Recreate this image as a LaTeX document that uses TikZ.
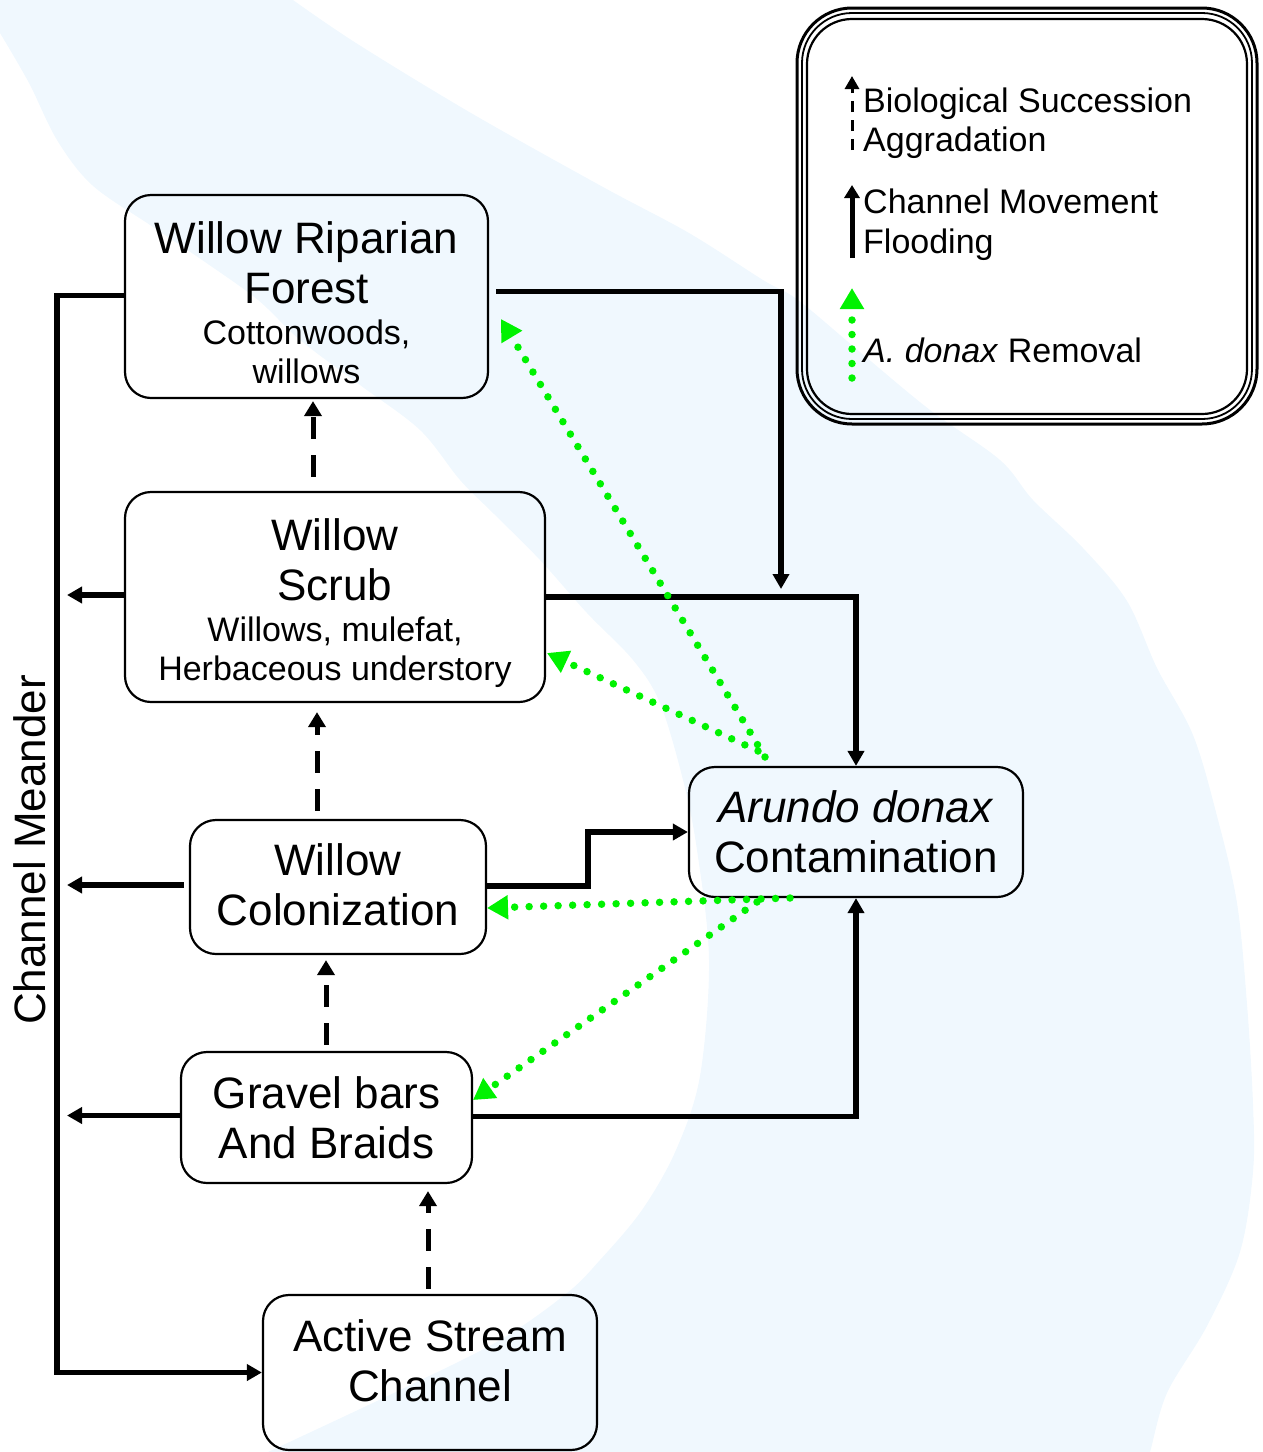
\documentclass[tikz,border=0pt]{standalone}
\usepackage{fontspec}
\setmainfont{Liberation Sans}
\usetikzlibrary{arrows.meta}
\definecolor{riverblue}{RGB}{240,248,254}
\definecolor{remgreen}{RGB}{0,242,0}
\newcommand{\fbig}{\fontsize{44}{50}\selectfont}
\newcommand{\fsm}{\fontsize{34}{39}\selectfont}
\begin{document}
\begin{tikzpicture}[x=1pt,y=-1pt,
  box/.style={draw=black, line width=2.2pt, rounded corners=26pt, align=center, inner sep=0pt, font=\fbig},
  conn/.style={line width=5.5pt, line join=miter, -{Triangle[length=15pt,width=16pt]}},
  succ/.style={line width=5pt, dash pattern=on 22pt off 16pt, -{Triangle[length=15pt,width=17pt]}},
  removal/.style={draw=remgreen, line width=7.5pt, line cap=round, dash pattern=on 0pt off 14.5pt, -{Triangle[length=21pt,width=23pt]}},
  legtxt/.style={anchor=base west, inner sep=0pt, font=\fsm},
  legsucc/.style={line width=3pt, dash pattern=on 11pt off 8pt, -{Triangle[length=13pt,width=14pt]}},
  legconn/.style={line width=5pt, -{Triangle[length=13pt,width=15pt]}}
]
\useasboundingbox (0,0) rectangle (1262,1452);
% background river band
\fill[riverblue] (-10,-10) -- (293,-10) -- plot[smooth,tension=0.55] coordinates {(293,0) (356,43) (471,113) (603,187) (689,233) (763,280) (798,300) (860,352) (930,410) (1000,460) (1033,500) (1083,548) (1127,601) (1157,668) (1193,735) (1217,816) (1237,903) (1247,1004) (1253,1104) (1253,1172) (1240,1252) (1207,1326) (1167,1393) (1150,1452) (1145,1462)} -- (270,1462) -- plot[smooth,tension=0.55] coordinates {(268,1452) (400,1390) (500,1340) (567,1293) (600,1260) (642,1210) (676,1150) (700,1076) (709,960) (697,850) (683,780) (660,703) (633,660) (587,613) (540,560) (493,513) (460,480) (420,430) (360,385) (300,340) (258,300) (205,262) (150,225) (92,185) (57,140) (29,83) (0,33)} -- (-10,33) -- cycle;

% nodes
\node[box, minimum width=363pt, minimum height=203pt] (wrf) at (306.5,296.5)
  {\rule{0pt}{45pt}Willow Riparian\\Forest\\[-9pt]{\fsm Cottonwoods,}\\[-11pt]{\fsm willows}};
\node[box, minimum width=420pt, minimum height=210pt] (ws) at (335,597)
  {\rule{0pt}{43.5pt}Willow\\Scrub\\[-9pt]{\fsm Willows, mulefat,}\\[-11pt]{\fsm Herbaceous understory}};
\node[box, minimum width=296pt, minimum height=134pt, text depth=4pt] (wc) at (338,887)
  {Willow\\Colonization};
\node[box, minimum width=291pt, minimum height=131pt] (gb) at (326.5,1117.5)
  {Gravel bars\\And Braids};
\node[box, minimum width=334pt, minimum height=155pt, text depth=24pt] (asc) at (430,1372.5)
  {Active Stream\\Channel};
\node[box, minimum width=334pt, minimum height=130pt] (arundo) at (856,832)
  {\textit{Arundo donax}\\Contamination};
\node[rotate=90, font=\fbig, inner sep=0pt] (cm) at (30,850) {Channel Meander};

% legend frame
\draw[line width=3pt, rounded corners=55pt] (797,8) rectangle (1257,424);
\draw[line width=1.8pt, rounded corners=50pt] (802,13) rectangle (1252,419);
\draw[line width=2.2pt, rounded corners=45pt] (807,19) rectangle (1247,414);
% legend texts
\node[legtxt] (l1a) at (863,112) {Biological Succession};
\node[legtxt] (l1b) at (863,151) {Aggradation};
\node[legtxt] (l2a) at (863,213) {Channel Movement};
\node[legtxt] (l2b) at (863,253) {Flooding};
\node[legtxt] (l3) at (863,362) {\textit{A. donax} Removal};
% legend arrows
\coordinate (la1) at (852,150); \coordinate (lb1) at (852,76);
\coordinate (la2) at (852,258); \coordinate (lb2) at (852,185);
\coordinate (la3) at (852,378); \coordinate (lb3) at (852,288);
\draw[legsucc] (la1) -- (lb1);
\draw[legconn] (la2) -- (lb2);
\draw[removal] (la3) -- (lb3);

% channel meander connectors
\coordinate (cmx) at (57,0);
\coordinate (tipx) at (67,0);
\draw[conn] ([yshift=1pt]wrf.west) -- ([yshift=1pt]wrf.west -| cmx) -- (cmx |- asc.west) -- (asc.west);
\draw[conn] ([yshift=2pt]ws.west) -- ([yshift=2pt]ws.west -| tipx);
\draw[conn, shorten <=5pt] ([yshift=2pt]wc.west) -- ([yshift=2pt]wc.west -| tipx);
\draw[conn] ([yshift=2pt]gb.west) -- ([yshift=2pt]gb.west -| tipx);

% channel movement / flooding
\coordinate (drop) at (781,589);
\draw[conn] ([xshift=7pt,yshift=5pt]wrf.east) -| (drop);
\draw[conn] (ws.east) -| (arundo.north);
\draw[conn] ([yshift=1pt]wc.east) -- ++(101,0) |- (arundo.west);
\draw[conn] ([yshift=1pt]gb.east) -| (arundo.south);

% biological succession
\coordinate (s1) at (313,0);
\coordinate (s2) at (317,0);
\coordinate (s3) at (326,0);
\coordinate (s4) at (428,0);
\draw[succ, shorten <=14pt, shorten >=2pt] (ws.north -| s1) -- (wrf.south -| s1);
\draw[succ, shorten <=8pt, shorten >=9pt] (wc.north -| s2) -- (ws.south -| s2);
\draw[succ, shorten <=6pt, shorten >=5pt] (gb.north -| s3) -- (wc.south -| s3);
\draw[succ, shorten <=5pt, shorten >=7pt] (asc.north -| s4) -- (gb.south -| s4);

% A. donax removal
\coordinate (gA) at (765,757); \coordinate (tA) at (501,319);
\coordinate (gB) at (758,751); \coordinate (tB) at (547,653);
\coordinate (gC) at (790,898); \coordinate (tC) at (487,908);
\coordinate (gD) at (757,902); \coordinate (tD) at (473,1100);
\draw[removal] (gA) -- (tA);
\draw[removal] (gB) -- (tB);
\draw[removal] (gC) -- (tC);
\draw[removal] (gD) -- (tD);
\end{tikzpicture}
\end{document}
